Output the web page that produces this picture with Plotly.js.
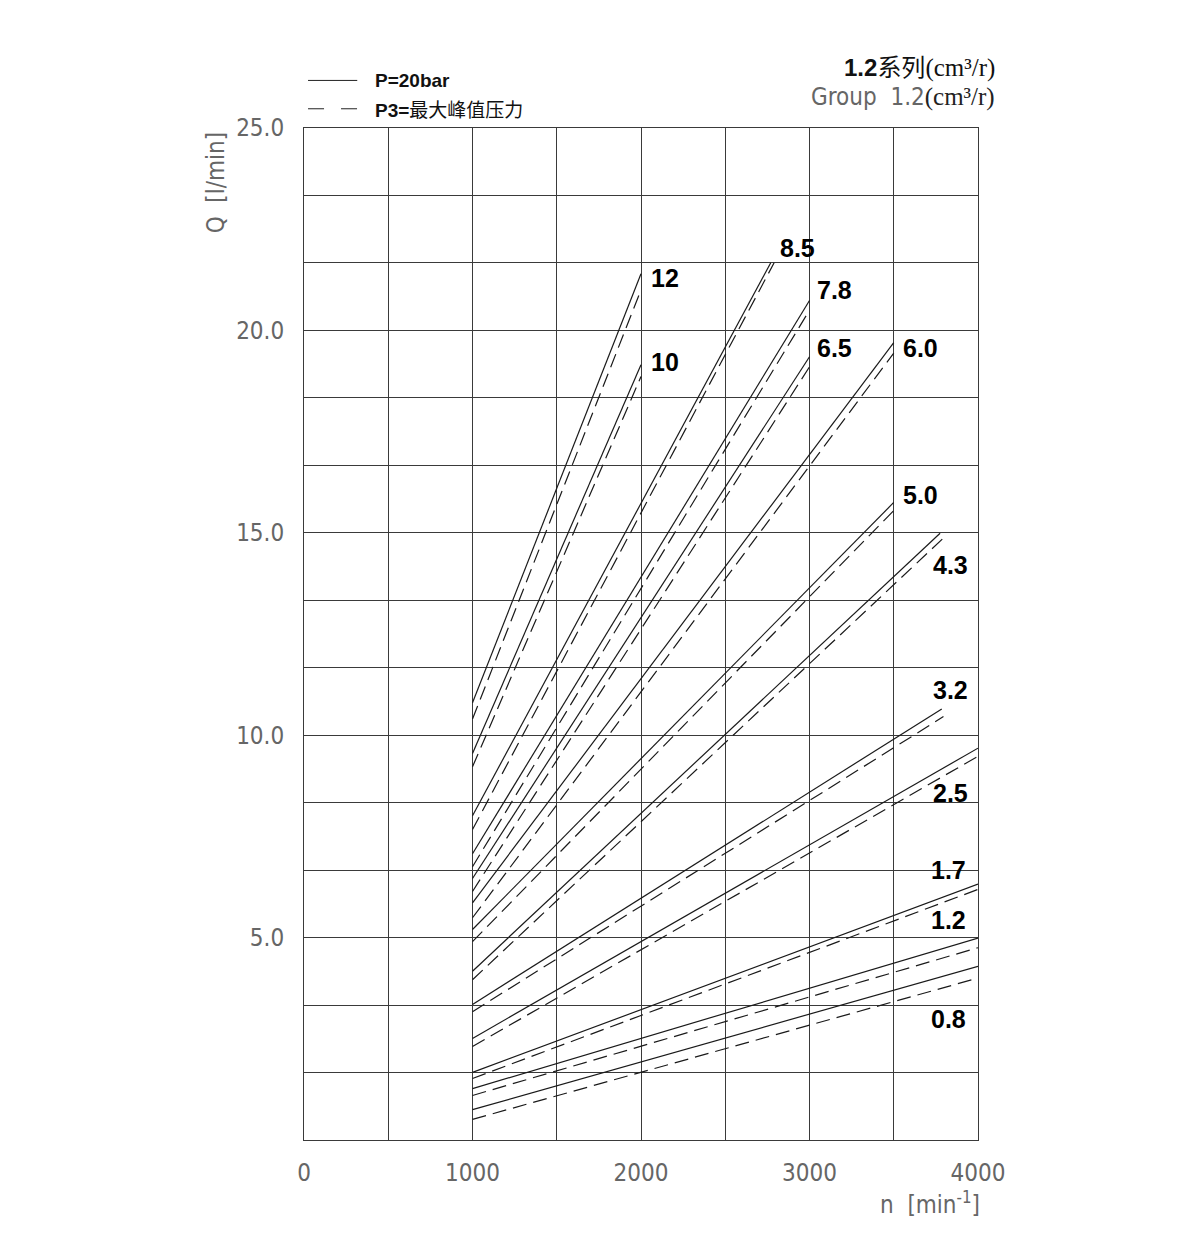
<!DOCTYPE html>
<html>
<head>
<meta charset="utf-8">
<script src="https://cdn.plot.ly/plotly-3.0.1.min.js"></script>
<style>html,body{margin:0;padding:0;background:#fff;}#chart{width:1200px;height:1244px;}</style>
</head>
<body>
<div id="chart"></div>
<script>
// Series labels (displacement, cm3/r)
const seriesLabels = ['12','10','8.5','7.8','6.5','6.0','5.0','4.3','3.2','2.5','1.7','1.2','0.8'];
// Speed at start of every line (min-1)
const startN = [1000,1000,1000,1000,1000,1000,1000,1000,1000,1000,1000,1000,1000];
// P=20bar (solid)
const solidEndN = [2000,2000,2770,3000,3000,3500,3500,3775,3785,4000,4000,4000,4000];
const solidStartQ = [10.8,9.55,8.01,7.07,6.46,5.86,5.2,4.17,3.35,2.51,1.67,1.27,0.75];
const solidEndQ = [21.4,19.15,21.67,20.74,19.35,19.7,15.75,14.99,10.65,9.68,6.32,4.99,4.29];
// P3 = max peak pressure (dashed)
const dashEndN = [2000,2000,2790,3000,3000,3500,3500,3795,3795,4000,4000,4000,4000];
const dashStartQ = [10.4,9.22,7.67,6.75,6.14,5.49,4.9,3.96,3.17,2.31,1.52,1.1,0.51];
const dashEndQ = [21.0,18.86,21.67,20.5,19.1,19.44,15.55,14.87,10.46,9.48,6.19,4.75,4.0];
// Label anchor points (data coords)
const labelN = [2143,2143,2926,3151,3151,3656,3656,3834,3834,3834,3822,3822,3822];
const labelQ = [21.3,19.22,22.04,21.0,19.57,19.57,15.94,14.21,11.12,8.58,6.68,5.44,2.98];
// Axis ticks
const xTicks = [0,1000,2000,3000,4000];
const xTickText = ['0','1000','2000','3000','4000'];
const yTicks = [5,10,15,20,25];
const yTickText = ['5.0','10.0','15.0','20.0','25.0'];

const lineColor = '#1a1a1a';
const traces = [];
seriesLabels.forEach((lab, i) => {
  traces.push({
    type: 'scatter', mode: 'lines', name: lab + ' P=20bar', showlegend: false,
    x: [startN[i], solidEndN[i]], y: [solidStartQ[i], solidEndQ[i]],
    line: {color: lineColor, width: 1.2}, hoverinfo: 'skip'
  });
  traces.push({
    type: 'scatter', mode: 'lines', name: lab + ' P3', showlegend: false,
    x: [startN[i], dashEndN[i]], y: [dashStartQ[i], dashEndQ[i]],
    line: {color: lineColor, width: 1.2, dash: '14px,7px'}, hoverinfo: 'skip'
  });
});

const narrowFamily = '"DejaVu Sans Condensed", "DejaVu Sans", sans-serif';
const thinFont = {family: narrowFamily, size: 24, color: '#666'};

const annotations = seriesLabels.map((lab, i) => ({
  x: labelN[i], y: labelQ[i], xref: 'x', yref: 'y', text: '<b>' + lab + '</b>',
  showarrow: false, xanchor: 'center', yanchor: 'middle',
  font: {family: '"Liberation Sans", Arial, sans-serif', size: 25, color: '#000'}
}));

// Axis titles
annotations.push({
  xref: 'paper', yref: 'paper', x: -0.131, y: 0.946, text: 'Q  [l/min]', textangle: -90,
  showarrow: false, xanchor: 'center', yanchor: 'middle', font: thinFont
});
annotations.push({
  xref: 'paper', yref: 'paper', x: 1.006, y: -0.062, text: 'n  [min<sup>-1</sup>]',
  showarrow: false, xanchor: 'right', yanchor: 'middle', font: thinFont
});
// Title block (top right)
annotations.push({
  xref: 'paper', yref: 'paper', x: 1.028, y: 1.062, showarrow: false, xanchor: 'right', yanchor: 'middle',
  text: '<b>1.2</b><span style="font-family:\'Noto Sans CJK SC\'">系列</span><span style="font-family:\'Liberation Serif\';font-size:25px">(cm³/r)</span>',
  font: {family: '"Liberation Sans", Arial, sans-serif', size: 24, color: '#111'}
});
annotations.push({
  xref: 'paper', yref: 'paper', x: 1.028, y: 1.031, showarrow: false, xanchor: 'right', yanchor: 'middle',
  text: 'Group  1.2<span style="font-family:\'Liberation Serif\';font-size:25px;color:#222">(cm³/r)</span>',
  font: {family: narrowFamily, size: 24, color: '#666'}
});
// Legend texts
annotations.push({
  xref: 'paper', yref: 'paper', x: 0.102, y: 1.047, showarrow: false, xanchor: 'left', yanchor: 'middle',
  text: '<b>P=20bar</b>', font: {family: '"Liberation Sans", Arial, sans-serif', size: 19, color: '#111'}
});
annotations.push({
  xref: 'paper', yref: 'paper', x: 0.102, y: 1.019, showarrow: false, xanchor: 'left', yanchor: 'middle',
  text: '<b>P3=</b><span style="font-family:\'Noto Sans CJK SC\'">最大峰值压力</span>',
  font: {family: '"Liberation Sans", Arial, sans-serif', size: 19, color: '#111'}
});

const shapes = [
  {type: 'line', xref: 'paper', yref: 'paper', x0: 0.006, x1: 0.079, y0: 1.047, y1: 1.047,
   line: {color: '#222', width: 1}},
  {type: 'line', xref: 'paper', yref: 'paper', x0: 0.006, x1: 0.079, y0: 1.019, y1: 1.019,
   line: {color: '#222', width: 1, dash: '16px,17px'}}
];

const layout = {
  width: 1200, height: 1244,
  margin: {l: 304, r: 222, t: 128, b: 104, pad: 0},
  paper_bgcolor: '#fff', plot_bgcolor: '#fff',
  showlegend: false,
  xaxis: {
    range: [0, 4000], tickvals: xTicks, ticktext: xTickText,
    showgrid: true, gridcolor: '#3a3a3a', gridwidth: 1,
    minor: {dtick: 500, tick0: 0, showgrid: true, gridcolor: '#3a3a3a', gridwidth: 1},
    showline: true, linecolor: '#3a3a3a', linewidth: 1, mirror: true,
    zeroline: false, ticks: '', ticklabelstandoff: 11,
    tickfont: thinFont, fixedrange: true
  },
  yaxis: {
    range: [0, 25], tickvals: yTicks, ticktext: yTickText,
    showgrid: true, gridcolor: '#3a3a3a', gridwidth: 1,
    minor: {dtick: 5/3, tick0: 0, showgrid: true, gridcolor: '#3a3a3a', gridwidth: 1},
    showline: true, linecolor: '#3a3a3a', linewidth: 1, mirror: true,
    zeroline: false, ticks: '', ticklabelstandoff: 14,
    tickfont: thinFont, fixedrange: true
  },
  annotations: annotations,
  shapes: shapes
};

Plotly.newPlot('chart', traces, layout, {displayModeBar: false, staticPlot: true});
</script>
</body>
</html>
